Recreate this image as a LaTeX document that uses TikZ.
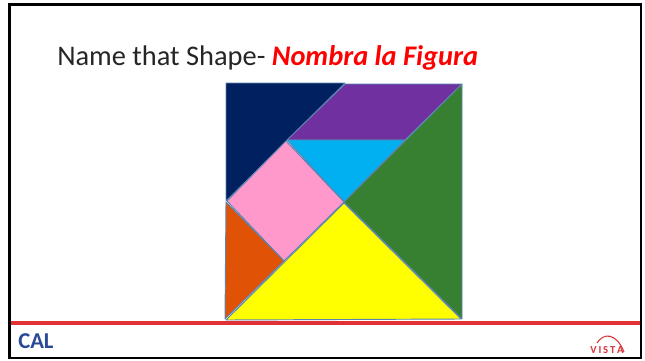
\documentclass[tikz,border=0pt]{standalone}
\usepackage{fontspec}
\setmainfont{Carlito}
\definecolor{navy}{HTML}{002060}
\definecolor{purp}{HTML}{7030A0}
\definecolor{cyanb}{HTML}{00B0F0}
\definecolor{pinkb}{HTML}{FF99CC}
\definecolor{greenb}{HTML}{378032}
\definecolor{orangeb}{HTML}{E05206}
\definecolor{yellowb}{HTML}{FFFF00}
\definecolor{redt}{HTML}{FF0000}
\definecolor{titlec}{HTML}{262626}
\definecolor{edge}{HTML}{5B84B1}
\definecolor{redb}{HTML}{E03236}
\definecolor{calblue}{HTML}{2A4A96}
\definecolor{vistared}{HTML}{D8343C}
\tikzset{piece/.style={draw=edge,line width=0.7pt,line join=round}}
\begin{document}
\begin{tikzpicture}[x=0.75pt,y=-0.75pt]
\useasboundingbox (0,0) rectangle (645,360);
\fill[white] (0,0) rectangle (645,360);
% tangram pieces
\draw[piece,fill=navy] (226,83) -- (345,83) -- (226,201) -- cycle;
\draw[piece,fill=purp] (345,84) -- (462,84) -- (405,140) -- (287,140) -- cycle;
\draw[piece,fill=cyanb] (287,140) -- (405,140) -- (344,202) -- cycle;
\draw[piece,fill=greenb] (462,84) -- (462,319) -- (344,202) -- cycle;
\draw[piece,fill=pinkb] (286,141) -- (344,202) -- (284,261) -- (227,201) -- cycle;
\draw[piece,fill=orangeb] (226,202) -- (284,261) -- (225,319) -- cycle;
\draw[piece,fill=yellowb] (344,203) -- (461,319) -- (226,320) -- cycle;
% frame and rule
\draw[line width=2.2pt] (9.5,4.5) rectangle (641,358);
\draw[redb,line width=3pt] (11,323) -- (640,323);
% title
\node[anchor=base west,inner sep=0pt,text=titlec,font=\fontsize{21.3pt}{24pt}\selectfont] (title) at (57,65)
  {Name that Shape- \textcolor{redt}{\textbf{\textit{Nombra la Figura}}}};
% logos
\node[anchor=base west,inner sep=0pt,text=calblue,font=\fontsize{17pt}{18pt}\selectfont\bfseries] (cal) at (18,348) {CAL};
\node[anchor=base,inner sep=0pt,text=vistared,font=\fontsize{8pt}{9pt}\selectfont\bfseries] (vista) at (607,353) {V\,I\,S\,T\,A};
\draw[vistared,line width=0.8pt] (597,343) .. controls (603,333) and (616,332) .. (624,352);
\end{tikzpicture}
\end{document}
